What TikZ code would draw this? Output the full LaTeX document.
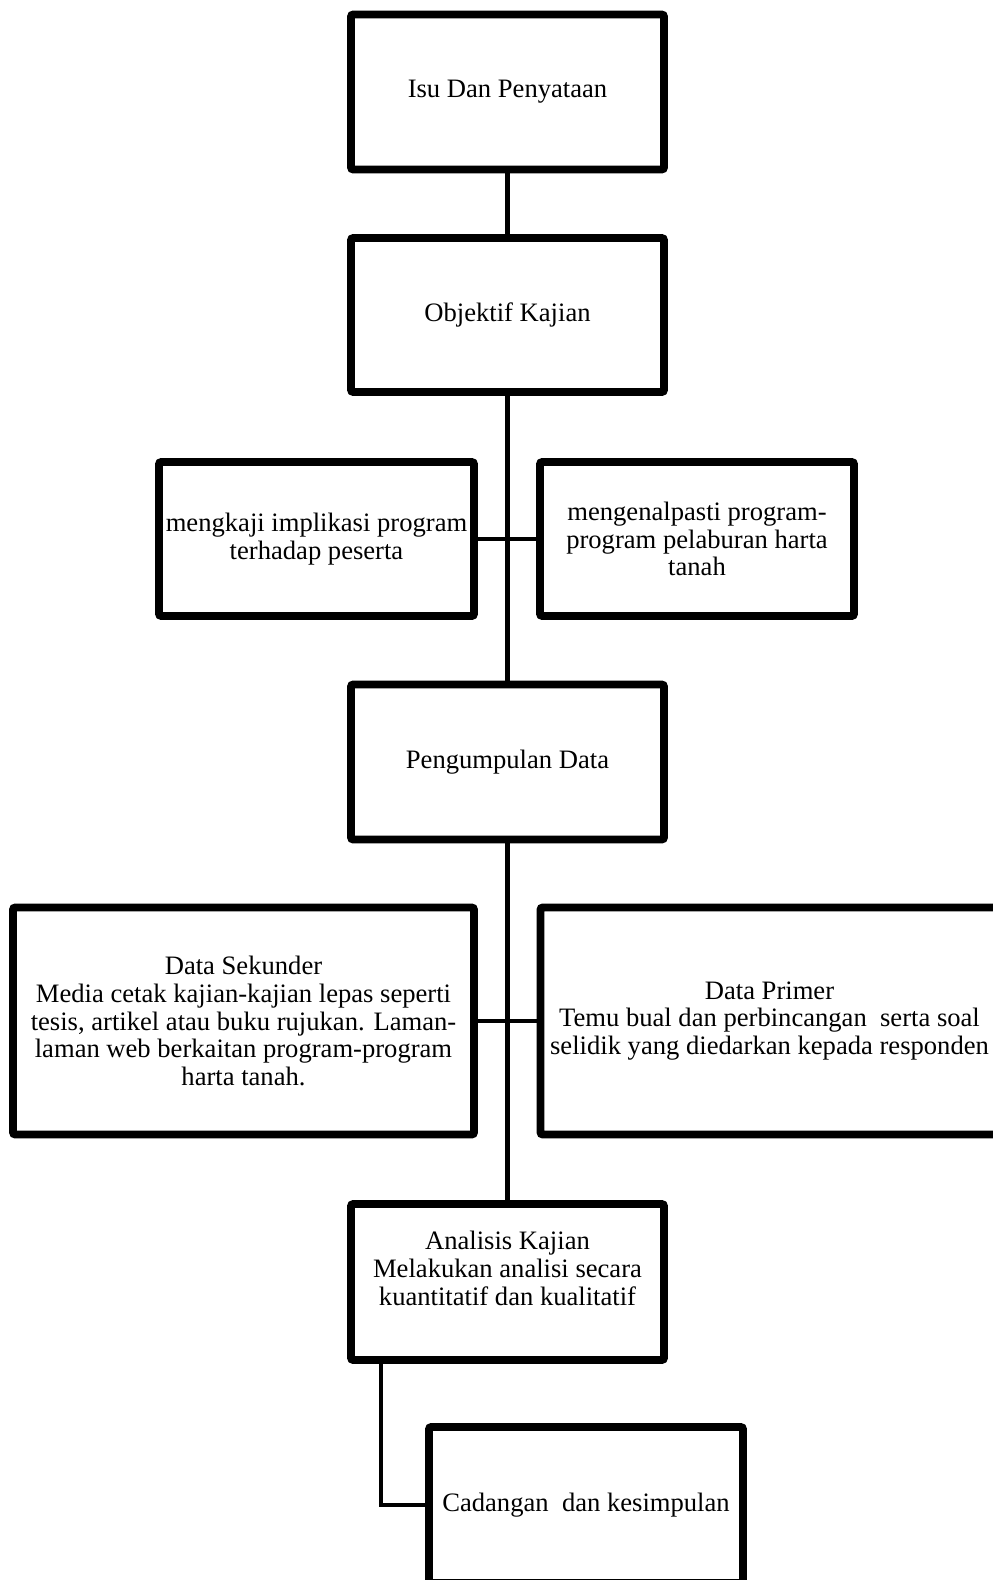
\documentclass[tikz,border=0pt]{standalone}
\usepackage{fontspec}
\setmainfont{Liberation Serif}
\usetikzlibrary{shadows}
\begin{document}
\begin{tikzpicture}[x=0.5pt,y=-0.5pt,
  box/.style={draw=black, line width=3.8pt, fill=white, rounded corners=1pt,
    align=center, inner sep=1pt, font=\fontsize{13.3}{13.9}\selectfont,
    drop shadow={shadow xshift=1.2pt, shadow yshift=-1.2pt, opacity=0.25, fill=black}},
  conn/.style={draw=black, line width=2.3pt}]
\useasboundingbox (0,0) rectangle (992,1580);
\node[box, minimum width=156.5pt, minimum height=77.5pt] (b1) at (507.5,92) {Isu Dan Penyataan};
\node[box, minimum width=156.5pt, minimum height=77pt] (b2) at (507.5,315) {Objektif Kajian};
\node[box, minimum width=157.5pt, minimum height=77pt] (lm) at (316.5,539) {mengkaji implikasi program\\terhadap peserta};
\node[box, minimum width=157pt, minimum height=77pt] (rm) at (697,539) {mengenalpasti program-\\program pelaburan harta\\tanah};
\node[box, minimum width=156.5pt, minimum height=77.5pt] (peng) at (507.5,762) {Pengumpulan Data};
\node[box, minimum width=230.5pt, minimum height=113.5pt] (sek) at (243.5,1021) {Data Sekunder\\Media cetak kajian-kajian lepas seperti\\tesis, artikel atau buku rujukan. Laman-\\laman web berkaitan program-program\\harta tanah.};
\node[box, minimum width=229pt, minimum height=113.5pt] (pri) at (769.5,1021) {Data Primer\\Temu bual dan perbincangan\ \ serta soal\\selidik yang diedarkan kepada responden};
\node[box, minimum width=156.5pt, minimum height=78pt] (ana) at (507.5,1282) {Analisis Kajian\\Melakukan analisi secara\\kuantitatif dan kualitatif\\\mbox{}};
\node[box, minimum width=157pt, minimum height=78pt] (cad) at (586,1505) {Cadangan\ \ dan kesimpulan};
\draw[conn] (b1.south) -- (b2.north);
\draw[conn] (b2.south) -- (peng.north);
\draw[conn] (lm.east) -- (rm.west);
\draw[conn] (peng.south) -- (ana.north);
\draw[conn] (sek.east) -- (pri.west);
\coordinate (e) at (381,1359);
\draw[conn] (e) |- (cad.west);
\end{tikzpicture}
\end{document}
